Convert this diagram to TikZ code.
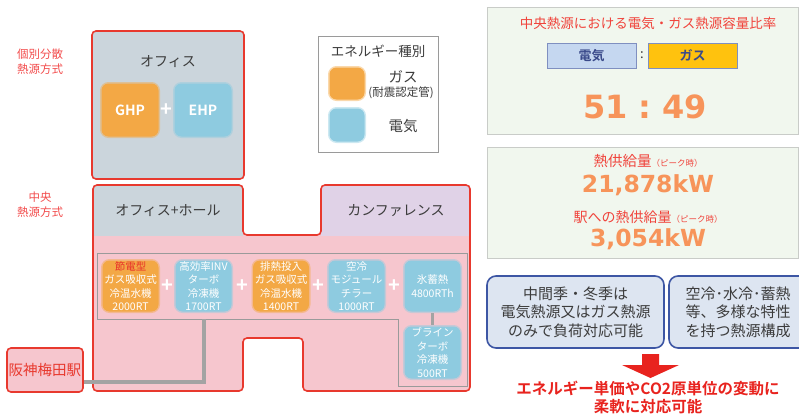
\documentclass[tikz,border=0pt]{standalone}
\usepackage{fontspec}
\setmainfont{Noto Sans CJK JP}[BoldFont={Noto Sans CJK JP Bold}]
\newfontfamily\numfont{DejaVu Sans}
\usetikzlibrary{positioning}

\definecolor{zonered}{HTML}{E8392E}
\definecolor{lblred}{HTML}{F24B4B}
\definecolor{officegray}{HTML}{CBD5DC}
\definecolor{confpurple}{HTML}{E0D2E7}
\definecolor{hallpink}{HTML}{F6C6CE}
\definecolor{gasorg}{HTML}{F3A845}
\definecolor{elecblue}{HTML}{8ECBE0}
\definecolor{pipegray}{HTML}{A3A3A3}
\definecolor{framegray}{HTML}{9A9A9A}
\definecolor{txtgray}{HTML}{3C3C3C}
\definecolor{setsured}{HTML}{E8302A}
\definecolor{panelgreen}{HTML}{F1F7EE}
\definecolor{panelgray}{HTML}{C9CCC8}
\definecolor{titlered}{HTML}{F0443C}
\definecolor{numorange}{HTML}{F7945A}
\definecolor{ratioblue}{HTML}{C5D7F0}
\definecolor{ratioedge}{HTML}{7F8FC0}
\definecolor{rationavy}{HTML}{3A4A8A}
\definecolor{gasyellow}{HTML}{FFC20E}
\definecolor{memoblue}{HTML}{DDE5F1}
\definecolor{memonavy}{HTML}{3D56A4}
\definecolor{arrowred}{HTML}{E8231E}

\begin{document}
\begin{tikzpicture}[x=1pt, y=-1pt,
  every node/.style={inner sep=0pt, text=txtgray},
  zone/.style={draw=zonered, line width=1.6pt, rounded corners=4pt},
  gasunit/.style={fill=gasorg, draw=gasorg, draw opacity=0.45, line width=3pt,
    rounded corners=7pt, text=white, align=center},
  elecunit/.style={gasunit, fill=elecblue, draw=elecblue},
  equnit/.style={minimum width=56pt, minimum height=51pt,
    font=\fontsize{10.5}{13.5}\selectfont},
  plussign/.style={text=white, font=\bfseries\fontsize{20}{20}\selectfont},
  pipe/.style={draw=pipegray, line width=3.5pt},
  panel/.style={fill=panelgreen, draw=panelgray, line width=1pt},
  memo/.style={fill=memoblue, draw=memonavy, line width=1.6pt, rounded corners=9pt},
  bignum/.style={text=numorange, font=\numfont\bfseries\fontsize{23.5}{23.5}\selectfont},
  ]
  \useasboundingbox (0,0) rectangle (799,415);

  % System labels
  \node[text=lblred, align=center, font=\fontsize{11.5}{15}\selectfont] (lblsep) at (40,62) {個別分散\\熱源方式};
  \node[text=lblred, align=center, font=\fontsize{11.5}{15}\selectfont] (lblcen) at (40,205) {中央\\熱源方式};

  % Office (individual)
  \draw[zone, fill=officegray] (92,31) rectangle (244,179);
  \node[font=\fontsize{14}{14}\selectfont] (office) at (168,62) {オフィス};
  \node[gasunit, minimum width=57pt, minimum height=53pt, font=\bfseries\fontsize{14}{14}\selectfont] (ghp) at (130,110) {GHP};
  \node[elecunit, minimum width=57pt, minimum height=53pt, font=\bfseries\fontsize{14}{14}\selectfont] (ehp) at (203,110) {EHP};
  \path (ghp) -- node[plussign] {+} (ehp);

  % Legend
  \draw[framegray, line width=0.8pt] (318,36) rectangle (438,152);
  \node[font=\fontsize{13.5}{13.5}\selectfont] (legtitle) at (378,51) {エネルギー種別};
  \node[gasunit, minimum width=35pt, minimum height=32pt] (lgas) at (347,83.5) {};
  \node[elecunit, minimum width=35pt, minimum height=33pt] (lelec) at (347,125) {};
  \node[font=\fontsize{14.5}{14.5}\selectfont] (lgastxt) at (403,77) {ガス};
  \node[font=\fontsize{11.5}{11.5}\selectfont] (lgasnote) at (401,93) {(耐震認定管)};
  \node[font=\fontsize{14.5}{14.5}\selectfont] (lelectxt) at (403,126) {電気};

  % Central plant building
  \begin{scope}
    \clip[rounded corners=4pt] (93,185) -- (243,185) -- (243,235) -- (321,235) -- (321,185) -- (470,185)
      -- (470,391) -- (303,391) -- (303,338) -- (243,338) -- (243,391) -- (93,391) -- cycle;
    \fill[hallpink] (93,185) rectangle (470,391);
    \fill[officegray] (93,185) rectangle (243,236);
    \fill[confpurple] (321,185) rectangle (470,236);
  \end{scope}
  \draw[zone] (93,185) -- (243,185) -- (243,235) -- (321,235) -- (321,185) -- (470,185)
    -- (470,391) -- (303,391) -- (303,338) -- (243,338) -- (243,391) -- (93,391) -- cycle;
  \node[font=\fontsize{14}{14}\selectfont] (hall) at (168,211) {オフィス+ホール};
  \node[font=\fontsize{14}{14}\selectfont] (conf) at (396,211) {カンファレンス};

  % Heat source frame
  \draw[framegray, line width=1pt] (97,253) -- (467,253) -- (467,386) -- (398,386) -- (398,319) -- (97,319) -- cycle;

  % Heat source units
  \node[gasunit, equnit] (e1) at (130.5,286) {{\color{setsured}節電型}\\ガス吸収式\\冷温水機\\2000RT};
  \node[elecunit, equnit] (e2) at (203.5,286) {高効率INV\\ターボ\\冷凍機\\1700RT};
  \node[gasunit, equnit] (e3) at (281,286) {排熱投入\\ガス吸収式\\冷温水機\\1400RT};
  \node[elecunit, equnit] (e4) at (356.5,286) {空冷\\モジュール\\チラー\\1000RT};
  \node[elecunit, equnit] (e5) at (432.5,286) {氷蓄熱\\4800RTh};
  \node[elecunit, equnit, minimum height=52pt] (brine) at (432.5,352.5) {ブライン\\ターボ\\冷凍機\\500RT};
  \path (e1) -- node[plussign] {+} (e2);
  \path (e2) -- node[plussign] {+} (e3);
  \path (e3) -- node[plussign] {+} (e4);
  \path (e4) -- node[plussign] {+} (e5);
  \draw[pipe, line width=3pt] (e5.south) -- (brine.north);

  % Station
  \node[zone, fill=hallpink, minimum width=76pt, minimum height=44pt, text=zonered,
    font=\fontsize{14.5}{14.5}\selectfont] (station) at (45,370) {阪神梅田駅};
  \coordinate (tap) at (204,319);
  \coordinate (bend) at (204,382);
  \draw[pipe] (tap) -- (bend) -- (bend -| station.east);

  % Capacity ratio
  \draw[panel] (487,7) rectangle (798,134);
  \node[text=titlered, font=\fontsize{13.5}{13.5}\selectfont] (ratiotitle) at (648,23) {中央熱源における電気・ガス熱源容量比率};
  \node[fill=ratioblue, draw=ratioedge, line width=1pt, minimum width=89pt, minimum height=25pt,
    text=rationavy, font=\bfseries\fontsize{13}{13}\selectfont] (relec) at (591.5,55.5) {電気};
  \node[fill=gasyellow, draw=ratioedge, line width=1pt, minimum width=89pt, minimum height=25pt,
    text=rationavy, font=\bfseries\fontsize{13}{13}\selectfont] (rgas) at (692.5,55.5) {ガス};
  \node[font=\fontsize{13}{13}\selectfont] (rcolon) at (642,55.5) {:};
  \node[bignum, font=\numfont\bfseries\fontsize{32}{32}\selectfont] (ratio) at (645,107) {51\,\,:\,\,49};

  % Heat supply
  \draw[panel] (487,147) rectangle (798,258);
  \node[text=titlered, font=\fontsize{14.5}{14.5}\selectfont] (supplytitle) at (648,161)
    {熱供給量{\fontsize{8.5}{8.5}\selectfont （ピーク時）}};
  \node[bignum] (supply) at (648,185) {21,878kW};
  \node[text=titlered, font=\fontsize{14}{14}\selectfont] (stationtitle) at (648,217)
    {駅への熱供給量{\fontsize{8.5}{8.5}\selectfont （ピーク時）}};
  \node[bignum] (stsupply) at (648,239) {3,054kW};

  % Notes
  \node[memo, minimum width=177pt, minimum height=72pt, align=center,
    font=\fontsize{15}{18.5}\selectfont] (memoa) at (575.5,312) {中間季・冬季は\\電気熱源又はガス熱源\\のみで負荷対応可能};
  \draw[memo] (669,276) rectangle (830,348);
  \node[align=center, font=\fontsize{15}{18.5}\selectfont] (memob) at (738,312) {空冷･水冷･蓄熱\\等、多様な特性\\を持つ熱源構成};

  % Result
  \fill[arrowred] (642,354) -- (659,354) -- (659,365) -- (679,365) -- (650.5,378) -- (622,365) -- (642,365) -- cycle;
  \node[text=arrowred, align=center, font=\bfseries\fontsize{15.5}{18}\selectfont] (result) at (648,397)
    {エネルギー単価やCO2原単位の変動に\\柔軟に対応可能};
\end{tikzpicture}
\end{document}
